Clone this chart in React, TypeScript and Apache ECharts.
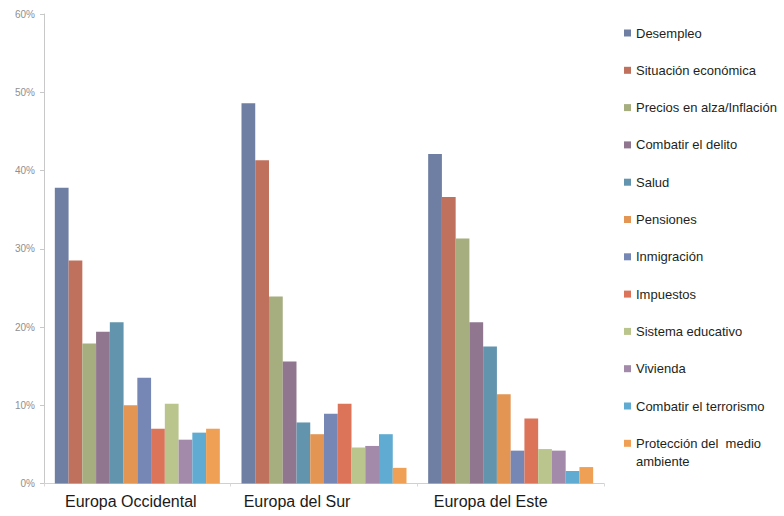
import React, { useEffect, useRef } from "react";
import * as echarts from "echarts";

const categories = ["Europa Occidental", "Europa del Sur", "Europa del Este"];
const seriesNames = [
  "Desempleo",
  "Situación económica",
  "Precios en alza/Inflación",
  "Combatir el delito",
  "Salud",
  "Pensiones",
  "Inmigración",
  "Impuestos",
  "Sistema educativo",
  "Vivienda",
  "Combatir el terrorismo",
  "Protección del  medio ambiente",
];
const colors = [
  "#6f7fa3",
  "#c0715d",
  "#a6ae80",
  "#90778f",
  "#6294ad",
  "#e39553",
  "#7686b5",
  "#dc7459",
  "#b9c58c",
  "#a48aaa",
  "#5fabd1",
  "#f0a054",
];
// values per series: [Occidental, Sur, Este]
const desempleo = [37.8, 48.6, 42.1];
const situacion = [28.5, 41.3, 36.6];
const precios = [17.9, 23.9, 31.3];
const delito = [19.4, 15.6, 20.6];
const salud = [20.6, 7.8, 17.5];
const pensiones = [10.0, 6.3, 11.4];
const inmigracion = [13.5, 8.9, 4.2];
const impuestos = [7.0, 10.2, 8.3];
const educativo = [10.2, 4.6, 4.4];
const vivienda = [5.6, 4.8, 4.2];
const terrorismo = [6.5, 6.3, 1.6];
const medioAmbiente = [7.0, 2.0, 2.1];
const seriesValues = [
  desempleo,
  situacion,
  precios,
  delito,
  salud,
  pensiones,
  inmigracion,
  impuestos,
  educativo,
  vivienda,
  terrorismo,
  medioAmbiente,
];
const yTicks = { min: 0, max: 60, interval: 10 };

export default function App() {
  const ref = useRef<HTMLDivElement>(null);
  useEffect(() => {
    if (!ref.current) return;
    const chart = echarts.init(ref.current, null, { renderer: "svg" });
    const font = "'Liberation Sans', Arial, sans-serif";
    const labelKeys = ["a", "b", "c"];
    chart.setOption({
      animation: false,
      backgroundColor: "#ffffff",
      textStyle: { fontFamily: font },
      grid: { left: 44, right: 180, top: 14, bottom: 32.5, containLabel: false },
      legend: {
        orient: "vertical",
        left: 624,
        top: 25,
        padding: 0,
        itemWidth: 7,
        itemHeight: 7,
        itemGap: 21.3,
        icon: "rect",
        data: seriesNames,
        formatter: (name: string) =>
          name === "Protección del  medio ambiente" ? "Protección del  medio" : name,
        textStyle: {
          fontFamily: font,
          fontSize: 13,
          color: "#231f20",
          lineHeight: 16,
        },
      },
      graphic: [
        {
          type: "text",
          left: 636,
          top: 455,
          style: {
            text: "ambiente",
            font: "13px 'Liberation Sans', Arial, sans-serif",
            fill: "#231f20",
          },
        },
      ],
      xAxis: {
        type: "category",
        data: categories,
        axisLine: { lineStyle: { color: "#d0d0d0" } },
        axisTick: { show: true, length: 3, lineStyle: { color: "#d8d8d8" } },
        axisLabel: {
          margin: 10,
          formatter: (v: string, i: number) => `{${labelKeys[i]}|${v}}`,
          rich: {
            a: { fontSize: 16, color: "#1a1a1a", fontFamily: font, padding: [0, 13, 0, 0] },
            b: { fontSize: 16, color: "#1a1a1a", fontFamily: font, padding: [0, 54, 0, 0] },
            c: { fontSize: 16, color: "#1a1a1a", fontFamily: font, padding: [0, 40, 0, 0] },
          },
        },
      },
      yAxis: {
        type: "value",
        min: yTicks.min,
        max: yTicks.max,
        interval: yTicks.interval,
        axisLine: { show: true, lineStyle: { color: "#c8c8c8" } },
        axisTick: { show: true, length: 4, lineStyle: { color: "#c8c8c8" } },
        splitLine: { show: false },
        axisLabel: {
          formatter: "{value}%",
          fontSize: 10,
          color: "#8f8f8f",
          margin: 9,
          fontFamily: font,
        },
      },
      series: seriesNames.map((name, i) => ({
        name,
        type: "bar",
        data: seriesValues[i],
        barGap: "0%",
        barCategoryGap: "11.6%",
        itemStyle: { color: colors[i] },
      })),
    });
    return () => chart.dispose();
  }, []);
  return (
    <div
      ref={ref}
      style={{ position: "fixed", left: 0, top: 0, width: 784, height: 516 }}
    />
  );
}
